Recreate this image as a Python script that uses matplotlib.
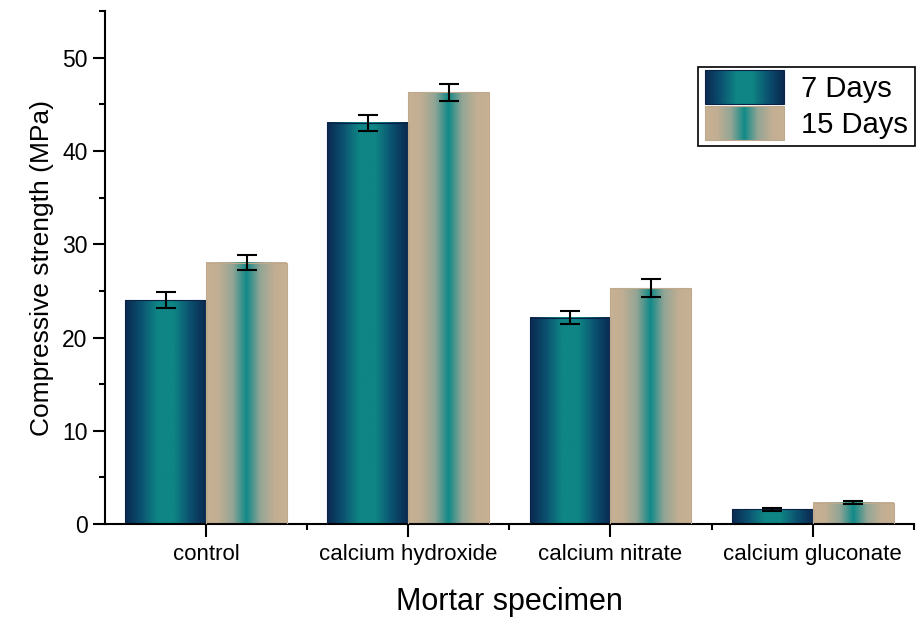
import numpy as np
import matplotlib
matplotlib.use("Agg")
import matplotlib.pyplot as plt
from matplotlib.colors import LinearSegmentedColormap
from matplotlib.legend_handler import HandlerBase
from matplotlib.image import BboxImage
from matplotlib.transforms import Bbox, TransformedBbox
from matplotlib.patches import Rectangle
from matplotlib.ticker import MultipleLocator, FixedLocator

plt.rcParams['font.family'] = ['Liberation Sans', 'DejaVu Sans']

# data
categories = ['control', 'calcium hydroxide', 'calcium nitrate', 'calcium gluconate']
days7 = [24.0, 43.0, 22.1, 1.6]
days7_err = [0.85, 0.85, 0.7, 0.15]
days15 = [28.0, 46.3, 25.3, 2.3]
days15_err = [0.8, 0.9, 0.95, 0.2]

# gradient colormaps (edge -> centre -> edge)
cmap7 = LinearSegmentedColormap.from_list(
    'c7', [(0.0, '#0a2850'), (0.2, '#0b5270'), (0.4, '#0f8585'),
           (0.6, '#0f8585'), (0.8, '#0b5270'), (1.0, '#0a2850')])
cmap15 = LinearSegmentedColormap.from_list(
    'c15', [(0.0, '#c8b194'), (0.15, '#c2ae93'), (0.33, '#93a595'),
            (0.5, '#118a88'), (0.67, '#93a595'), (0.85, '#c2ae93'), (1.0, '#c8b194')])
grad = np.linspace(0, 1, 256).reshape(1, -1)


class GradHandler(HandlerBase):
    def __init__(self, cmap, edge):
        super().__init__()
        self.cmap = cmap
        self.edge = edge

    def create_artists(self, legend, orig_handle, xdescent, ydescent,
                       width, height, fontsize, trans):
        bb = Bbox.from_bounds(-xdescent, -ydescent - 0.15 * height, width, height * 1.3)
        img = BboxImage(TransformedBbox(bb, trans), cmap=self.cmap, interpolation='bilinear')
        img.set_data(grad)
        rect = Rectangle((-xdescent, -ydescent - 0.15 * height), width, height * 1.3,
                         facecolor='none', edgecolor=self.edge, lw=0.8, transform=trans)
        return [img, rect]


fig = plt.figure(figsize=(9.17, 6.18), dpi=100)
ax = fig.add_axes([0.1145, 0.152, 0.882, 0.83])

x = np.arange(len(categories))
w = 0.4

for xi, v in zip(x, days7):
    ax.imshow(grad, cmap=cmap7, aspect='auto', interpolation='bilinear',
              extent=(xi - w, xi, 0, v), zorder=2)
    ax.add_patch(Rectangle((xi - w, 0), w, v, fill=False, edgecolor='#0a2245', lw=0.8, zorder=3))
for xi, v in zip(x, days15):
    ax.imshow(grad, cmap=cmap15, aspect='auto', interpolation='bilinear',
              extent=(xi, xi + w, 0, v), zorder=2)
    ax.add_patch(Rectangle((xi, 0), w, v, fill=False, edgecolor='#bfa98c', lw=0.8, zorder=3))

ax.errorbar(x - w / 2, days7, yerr=days7_err, fmt='none', ecolor='black',
            elinewidth=1.5, capsize=7, capthick=1.5, zorder=4)
ax.errorbar(x + w / 2, days15, yerr=days15_err, fmt='none', ecolor='black',
            elinewidth=1.5, capsize=7, capthick=1.5, zorder=4)

ax.set_xlim(-0.5, 3.5)
ax.set_ylim(0, 55)
ax.set_xticks(x)
ax.set_xticklabels(categories)
ax.xaxis.set_minor_locator(FixedLocator([0.5, 1.5, 2.5, 3.5]))
ax.yaxis.set_major_locator(MultipleLocator(10))
ax.yaxis.set_minor_locator(MultipleLocator(5))
ax.tick_params(axis='both', which='major', length=9, width=1.5, labelsize=16.5)
ax.tick_params(axis='x', which='major', labelsize=16, pad=5)
ax.tick_params(axis='both', which='minor', length=4.5, width=1.5)
for s in ['top', 'right']:
    ax.spines[s].set_visible(False)
for s in ['left', 'bottom']:
    ax.spines[s].set_linewidth(1.5)

ax.set_ylabel('Compressive strength (MPa)', fontsize=19, labelpad=6)
ax.set_xlabel('Mortar specimen', fontsize=22, labelpad=16)

h7 = Rectangle((0, 0), 1, 1)
h15 = Rectangle((0, 0), 1, 1)
leg = ax.legend([h7, h15], ['7 Days', '15 Days'],
                handler_map={h7: GradHandler(cmap7, '#0a2245'), h15: GradHandler(cmap15, '#bfa98c')},
                loc='upper right', bbox_to_anchor=(1.002, 0.891), fontsize=21,
                handlelength=2.7, handleheight=1.0, handletextpad=0.6,
                labelspacing=0.22, borderpad=0.25, borderaxespad=0.0, fancybox=False,
                edgecolor='black', framealpha=1)
leg.get_frame().set_linewidth(1.2)

fig.savefig('out.png', dpi=100)
